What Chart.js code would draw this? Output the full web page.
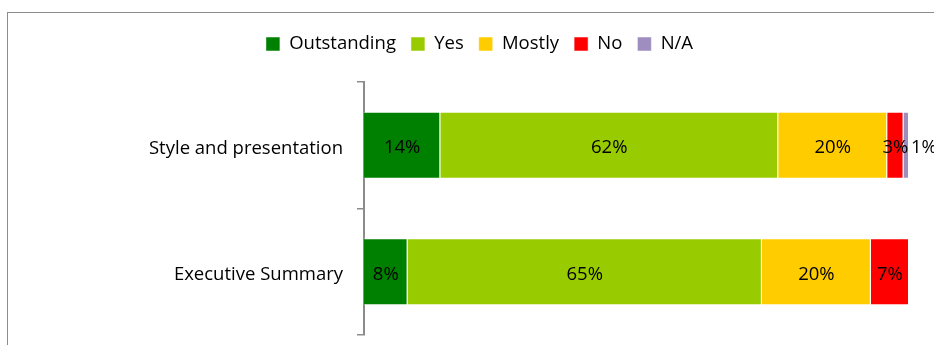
<!DOCTYPE html>
<html>
<head>
<meta charset="utf-8">
<script src="https://cdn.jsdelivr.net/npm/chart.js@4"></script>
<style>
    html, body { margin: 0; padding: 0; background: #fff; }
    .graphics-wrapper { position: relative; width: 934px; height: 345px; overflow: hidden; }
    .frame { position: absolute; left: 7px; top: 12px; width: 1000px; height: 1000px; border: 1px solid #8c8c8c; }
    canvas { position: absolute; left: 0; top: 0; }
</style>
</head>
<body>
<div class="graphics-wrapper">
    <div class="frame"></div>
    <canvas id="chart" width="934" height="345"></canvas>
</div>
<script>
const categories = ["Style and presentation", "Executive Summary"];
const seriesNames = ["Outstanding", "Yes", "Mostly", "No", "N/A"];
const outstanding = [14, 8];
const yes = [62, 65];
const mostly = [20, 20];
const no = [3, 7];
const na = [1, 0];
const colors = ["#008000", "#99cc00", "#ffcc00", "#ff0000", "#9e8ec0"];

const FONT = "'Open Sans', Lato, sans-serif";
const FONT_SIZE = 18.5;

// value labels: centred in each segment, tiny segments go right of the bar end
const barLabels = {
    id: "barLabels",
    afterDatasetsDraw(chart){
        const ctx = chart.ctx;
        ctx.save();
        ctx.font = FONT_SIZE + "px " + FONT;
        ctx.fillStyle = "#000";
        ctx.textBaseline = "middle";
        chart.data.datasets.forEach((ds, i) => {
            const meta = chart.getDatasetMeta(i);
            meta.data.forEach((bar, j) => {
                const v = ds.data[j];
                if(!v) return;
                const text = v + "%";
                if(v < 2){
                    ctx.textAlign = "left";
                    ctx.fillText(text, bar.x + 2, bar.y + 2.5);
                }else{
                    ctx.textAlign = "center";
                    ctx.fillText(text, (bar.x + bar.base) / 2, bar.y + 2.5);
                }
            });
        });
        ctx.restore();
    }
};

// extra gap under the legend
const legendGap = {
    id: "legendGap",
    beforeInit(chart){
        const fit = chart.legend.fit;
        chart.legend.fit = function(){
            fit.bind(chart.legend)();
            this.height += 18.75;
        };
    }
};

const series = [outstanding, yes, mostly, no, na];
const datasets = seriesNames.map((name, i) => ({
    label: name,
    data: series[i],
    backgroundColor: colors[i],
    borderColor: "rgba(255,255,255,0.5)",
    borderWidth: 1,
    barPercentage: 0.53,
    categoryPercentage: 1
}));

new Chart(document.getElementById("chart"), {
    type: "bar",
    data: { labels: categories, datasets: datasets },
    options: {
        indexAxis: "y",
        responsive: false,
        animation: false,
        events: [],
        layout: { padding: { left: 50, right: 25, top: 19.75, bottom: 10 } },
        plugins: {
            legend: {
                position: "top",
                labels: {
                    boxWidth: 14,
                    boxHeight: 14,
                    padding: 15,
                    color: "#000",
                    font: { family: FONT, size: FONT_SIZE }
                }
            },
            tooltip: { enabled: false }
        },
        scales: {
            x: {
                stacked: true,
                min: 0,
                max: 100,
                display: false
            },
            y: {
                stacked: true,
                afterFit(scale){
                    scale.width = 314;
                    scale.paddingTop = 0;
                    scale.paddingBottom = 0;
                },
                border: { display: true, color: "#8c8c8c", width: 2 },
                grid: {
                    drawOnChartArea: false,
                    drawTicks: true,
                    tickLength: 7,
                    color: "#8c8c8c",
                    lineWidth: 1.5
                },
                ticks: {
                    padding: 14,
                    labelOffset: 3,
                    color: "#000",
                    font: { family: FONT, size: FONT_SIZE }
                }
            }
        }
    },
    plugins: [barLabels, legendGap]
});
</script>
</body>
</html>
